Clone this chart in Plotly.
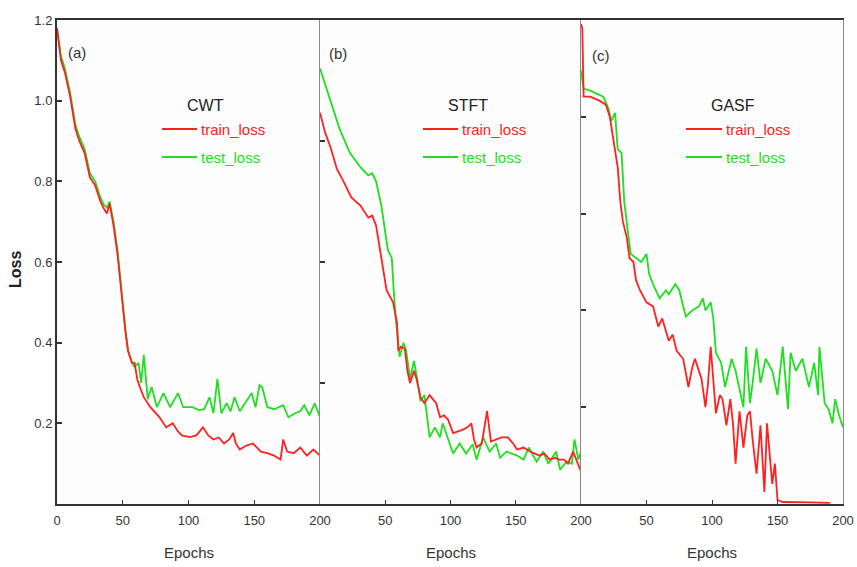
import plotly.graph_objects as go

# ---------------- data ----------------
cwt_train_ep = [0,3,6,10,14,17,21,25,29,33,36,38,40,43,46,48,50,52,54,57,59,61,63,66,71,75,78,83,88,92,95,101,106,111,115,119,123,127,131,134,136,139,144,149,155,160,165,170,172,175,180,185,190,195,200]
cwt_train = [1.18,1.10,1.07,1.01,0.93,0.90,0.87,0.81,0.79,0.75,0.73,0.72,0.745,0.69,0.62,0.55,0.50,0.43,0.38,0.35,0.35,0.31,0.29,0.265,0.24,0.225,0.215,0.19,0.20,0.18,0.17,0.166,0.17,0.19,0.17,0.16,0.165,0.15,0.16,0.176,0.15,0.135,0.145,0.15,0.13,0.126,0.12,0.11,0.16,0.13,0.126,0.14,0.12,0.135,0.12]
cwt_test_ep = [0,3,6,10,14,17,21,25,29,33,36,38,40,43,46,48,50,52,54,57,59,62,64,66,69,72,76,81,86,92,96,103,108,112,116,119,122,125,129,132,135,139,144,148,151,154,156,160,165,168,172,176,181,185,188,192,196,200]
cwt_test = [1.18,1.11,1.08,1.02,0.94,0.91,0.88,0.82,0.80,0.76,0.74,0.735,0.75,0.70,0.63,0.56,0.50,0.43,0.38,0.35,0.34,0.35,0.30,0.37,0.26,0.29,0.24,0.275,0.24,0.275,0.24,0.24,0.233,0.235,0.265,0.225,0.31,0.225,0.25,0.23,0.265,0.23,0.255,0.275,0.24,0.295,0.29,0.24,0.235,0.24,0.245,0.215,0.225,0.23,0.245,0.22,0.25,0.215]

stft_train_ep = [0,4,8,13,18,24,31,37,40,43,47,51,56,59,60,62,65,67,69,72,74,77,80,84,89,92,95,98,102,106,110,113,116,118,120,124,128,131,135,139,144,148,151,156,161,165,168,172,176,180,183,187,190,194,197,200]
stft_train = [0.97,0.92,0.885,0.83,0.80,0.76,0.74,0.71,0.715,0.69,0.61,0.53,0.50,0.45,0.38,0.39,0.385,0.33,0.30,0.33,0.31,0.265,0.25,0.27,0.25,0.215,0.22,0.21,0.176,0.18,0.185,0.19,0.20,0.16,0.14,0.15,0.23,0.155,0.16,0.165,0.165,0.15,0.135,0.14,0.13,0.125,0.12,0.125,0.11,0.115,0.11,0.11,0.10,0.13,0.105,0.08]
stft_test_ep = [0,4,10,15,23,31,37,40,43,47,52,55,56.5,58,60,61,64,66,69,72,75,77,80,84,88,92,94,98,102,107,112,117,120,125,130,135,138,143,147,151,156,160,166,171,175,181,184,189,193,195,198,200]
stft_test = [1.08,1.04,0.98,0.93,0.87,0.835,0.815,0.82,0.80,0.74,0.63,0.61,0.53,0.46,0.40,0.365,0.40,0.38,0.31,0.355,0.30,0.255,0.27,0.165,0.19,0.165,0.20,0.16,0.125,0.15,0.125,0.148,0.11,0.165,0.13,0.15,0.115,0.13,0.125,0.12,0.11,0.14,0.105,0.13,0.10,0.13,0.085,0.105,0.10,0.16,0.11,0.13]

gasf_train_ep = [0,1,2,7,14,19,22,25,28,30,32,35,37,40,42,45,50,55,59,62,67,70,73,78,82,85,87,90,92,95,97,99,101,103,106,108,111,114,116,118,121,124,127,129,131,134,137,140,142,144,146,148,150,154,164,175,190]
gasf_train = [1.19,1.18,1.01,1.01,1.0,0.99,0.96,0.90,0.835,0.75,0.70,0.66,0.61,0.60,0.555,0.53,0.50,0.49,0.44,0.46,0.405,0.42,0.38,0.36,0.29,0.34,0.36,0.33,0.31,0.24,0.30,0.39,0.30,0.225,0.27,0.26,0.195,0.26,0.20,0.10,0.23,0.14,0.22,0.23,0.16,0.075,0.195,0.03,0.20,0.13,0.05,0.10,0.01,0.005,0.005,0.004,0.003]
gasf_test_ep = [0,2,7,17,21,23,26,28,31,33,36,38,42,46,50,52,55,60,65,67,72,75,80,85,90,93,95,99,101,103,107,110,115,118,121,124,126,129,131,134,137,141,146,150,154,158,160,164,169,174,178,181,182,186,189,192,194,197,200]
gasf_test = [1.075,1.03,1.025,1.01,0.98,0.95,0.97,0.88,0.87,0.75,0.67,0.62,0.61,0.60,0.62,0.57,0.545,0.51,0.53,0.52,0.545,0.53,0.465,0.48,0.49,0.51,0.48,0.50,0.46,0.375,0.35,0.29,0.36,0.33,0.285,0.24,0.39,0.25,0.30,0.385,0.30,0.36,0.33,0.27,0.39,0.235,0.375,0.33,0.36,0.29,0.35,0.27,0.39,0.25,0.235,0.20,0.26,0.22,0.19]

panel_names = ["CWT", "STFT", "GASF"]
panel_tags = ["(a)", "(b)", "(c)"]
x_ticks = [[0, 50, 100, 150, 200], [50, 100, 150, 200], [50, 100, 150, 200]]
y_ticks_a = [0.2, 0.4, 0.6, 0.8, 1.0, 1.2]
y_ticks_b = [0.3, 0.6, 0.9]
y_ticks_c = [0.24, 0.48, 0.72, 0.96]

RED = "#ff2020"
GREEN = "#1ee01e"
FONT = "Liberation Sans, Arial, sans-serif"

# ---------------- figure ----------------
fig = go.Figure()
series = [
    (cwt_train_ep, cwt_train, cwt_test_ep, cwt_test),
    (stft_train_ep, stft_train, stft_test_ep, stft_test),
    (gasf_train_ep, gasf_train, gasf_test_ep, gasf_test),
]
for i, (tre, tr, tee, te) in enumerate(series):
    xa = "x" if i == 0 else f"x{i+1}"
    ya = "y" if i == 0 else f"y{i+1}"
    fig.add_trace(go.Scatter(x=tee, y=te, mode="lines", line=dict(color=GREEN, width=1.8),
                             xaxis=xa, yaxis=ya, showlegend=False, name="test_loss"))
    fig.add_trace(go.Scatter(x=tre, y=tr, mode="lines", line=dict(color=RED, width=1.8),
                             xaxis=xa, yaxis=ya, showlegend=False, name="train_loss"))

# figure fills the window exactly (body margin removed in post_script)
W, H = 857, 567
PL, PR, PT, PB = 57, 843, 20, 504          # target plot box in window pixels
L, T = PL, PT
R = W - PR
B = H - PB
pw = PR - PL
ph = PB - PT
edges = [57, 320, 581, 843]
doms = [[(edges[k] - PL) / pw, (edges[k + 1] - PL) / pw] for k in range(3)]

tickfont = dict(family=FONT, size=13, color="#333333")
layout = dict(
    width=W, height=H, margin=dict(l=L, r=R, t=T, b=B, autoexpand=False),
    paper_bgcolor="white", plot_bgcolor="#fdfdfd",
    font=dict(family=FONT, color="#333333"),
    showlegend=False,
)
ytv = [y_ticks_a, y_ticks_b, y_ticks_c]
for i in range(3):
    sx = "" if i == 0 else str(i + 1)
    layout[f"xaxis{sx}"] = dict(
        domain=doms[i], range=[0, 200], anchor=f"y{sx}", automargin=False,
        tickmode="array", tickvals=x_ticks[i], ticktext=[str(v) for v in x_ticks[i]],
        ticks="inside", ticklen=4, tickcolor="#333333", tickfont=tickfont,
        ticklabelstandoff=3,
        showline=True, linecolor="#333333", linewidth=2, mirror=True,
        showgrid=False, zeroline=False,
    )
    ycfg = dict(
        range=[0, 1.2], anchor=f"x{sx}", tickmode="array", tickvals=ytv[i], automargin=False,
        showgrid=False, zeroline=False, showline=True,
        ticks="inside", ticklen=5, tickcolor="#333333", tickwidth=1.5,
    )
    if i == 0:
        ycfg.update(tickfont=tickfont, ticktext=[f"{v:.1f}" for v in y_ticks_a],
                    linecolor="#333333", linewidth=2)
    else:
        ycfg.update(showticklabels=False, linecolor="#888888", linewidth=1, mirror=(i == 2))
    layout[f"yaxis{sx}"] = ycfg

annotations = []
shapes = []
def px2x(px):
    return (px - PL) / pw
def py2y(py):
    return (PB - py) / ph

def ann(text, px, py, size, color, xanchor="center", angle=0):
    return dict(text=text, x=px2x(px), y=py2y(py), xref="paper", yref="paper",
                xanchor=xanchor, yanchor="middle", showarrow=False, textangle=angle,
                font=dict(family=FONT, size=size, color=color))

tag_pos = [(77, 52), (338, 54), (601, 55)]
title_pos = [205, 468, 733]
line_pos = [(162, 197), (423, 458), (686, 722)]
for i in range(3):
    annotations.append(ann(panel_tags[i], tag_pos[i][0], tag_pos[i][1], 15, "#333333"))
    annotations.append(ann(panel_names[i], title_pos[i], 105, 16, "#222222"))
    x0, x1 = line_pos[i]
    for yy, col, txt in [(129, RED, "train_loss"), (157, GREEN, "test_loss")]:
        shapes.append(dict(type="line", xref="paper", yref="paper",
                           x0=px2x(x0), x1=px2x(x1), y0=py2y(yy), y1=py2y(yy),
                           line=dict(color=col, width=2)))
        annotations.append(ann(txt, x1 + 2, yy, 15, col, xanchor="left"))
    annotations.append(ann("Epochs", (edges[i] + edges[i + 1]) / 2, 552, 15, "#333333"))

annotations.append(ann("<b>Loss</b>", 15, 270, 16, "#222222", angle=-90))

layout["annotations"] = annotations
layout["shapes"] = shapes
fig.update_layout(**layout)
fig.write_html("out.html", config={"displayModeBar": False},
               post_script="document.body.style.margin='0';document.body.style.overflow='hidden';")
